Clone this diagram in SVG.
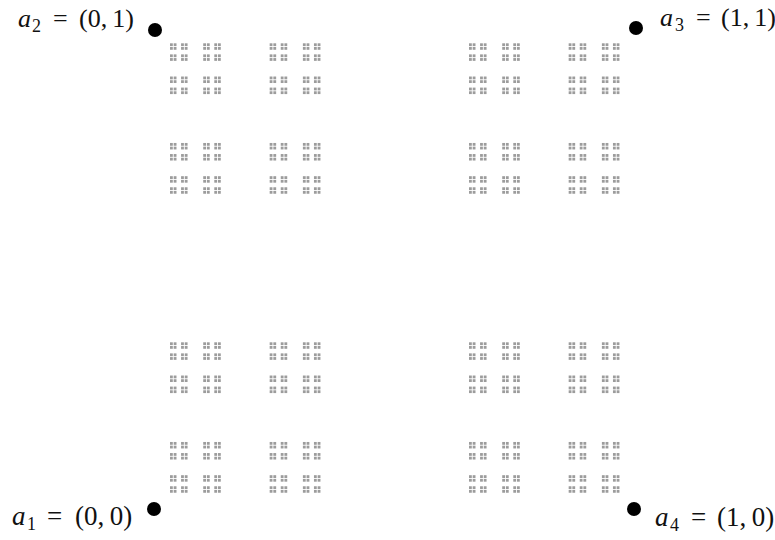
<svg xmlns="http://www.w3.org/2000/svg" width="775" height="540" viewBox="0 0 775 540">
<style>
.lbl{font-family:"Liberation Serif","DejaVu Serif",serif;font-size:26px;fill:#111}
.big{font-size:27px}
.it{font-style:italic}
.sub{font-size:18px;font-style:normal}
.pt{fill:#000}
.sq{fill:#9c9c9c}
</style>
<defs>
<rect id="q0" class="sq" width="2.8" height="2.8"/>
<g id="q1"><use href="#q0"/><use href="#q0" x="3.69"/><use href="#q0" y="3.69"/><use href="#q0" x="3.69" y="3.69"/></g>
<g id="q2"><use href="#q1"/><use href="#q1" x="11.07"/><use href="#q1" y="11.07"/><use href="#q1" x="11.07" y="11.07"/></g>
<g id="q3"><use href="#q2"/><use href="#q2" x="33.22"/><use href="#q2" y="33.22"/><use href="#q2" x="33.22" y="33.22"/></g>
<g id="q4"><use href="#q3"/><use href="#q3" x="99.67"/><use href="#q3" y="99.67"/><use href="#q3" x="99.67" y="99.67"/></g>
</defs>
<rect width="775" height="540" fill="#fff"/>
<g id="dust" transform="translate(170,43.3)">
<use href="#q4"/><use href="#q4" x="299"/><use href="#q4" y="299"/><use href="#q4" x="299" y="299"/>
</g>
<g id="connectors"/>
<g id="a1">
<circle class="pt" cx="154" cy="509" r="7"/>
<text class="lbl big" y="525"><tspan class="it" x="12">a</tspan><tspan class="sub" x="27" y="530">1</tspan><tspan x="47" y="525">=</tspan><tspan x="75">(0,&#8201;0)</tspan></text>
</g>
<g id="a2">
<circle class="pt" cx="155" cy="30" r="7"/>
<text class="lbl" y="27"><tspan class="it" x="18">a</tspan><tspan class="sub" x="32" y="32">2</tspan><tspan x="53" y="27">=</tspan><tspan x="79">(0,&#8201;1)</tspan></text>
</g>
<g id="a3">
<circle class="pt" cx="636" cy="28" r="7"/>
<text class="lbl" y="26"><tspan class="it" x="660">a</tspan><tspan class="sub" x="675" y="31">3</tspan><tspan x="696" y="26">=</tspan><tspan x="721">(1,&#8201;1)</tspan></text>
</g>
<g id="a4">
<circle class="pt" cx="634" cy="509" r="7"/>
<text class="lbl big" y="526"><tspan class="it" x="655">a</tspan><tspan class="sub" x="670" y="531">4</tspan><tspan x="691" y="526">=</tspan><tspan x="717">(1,&#8201;0)</tspan></text>
</g>
</svg>
